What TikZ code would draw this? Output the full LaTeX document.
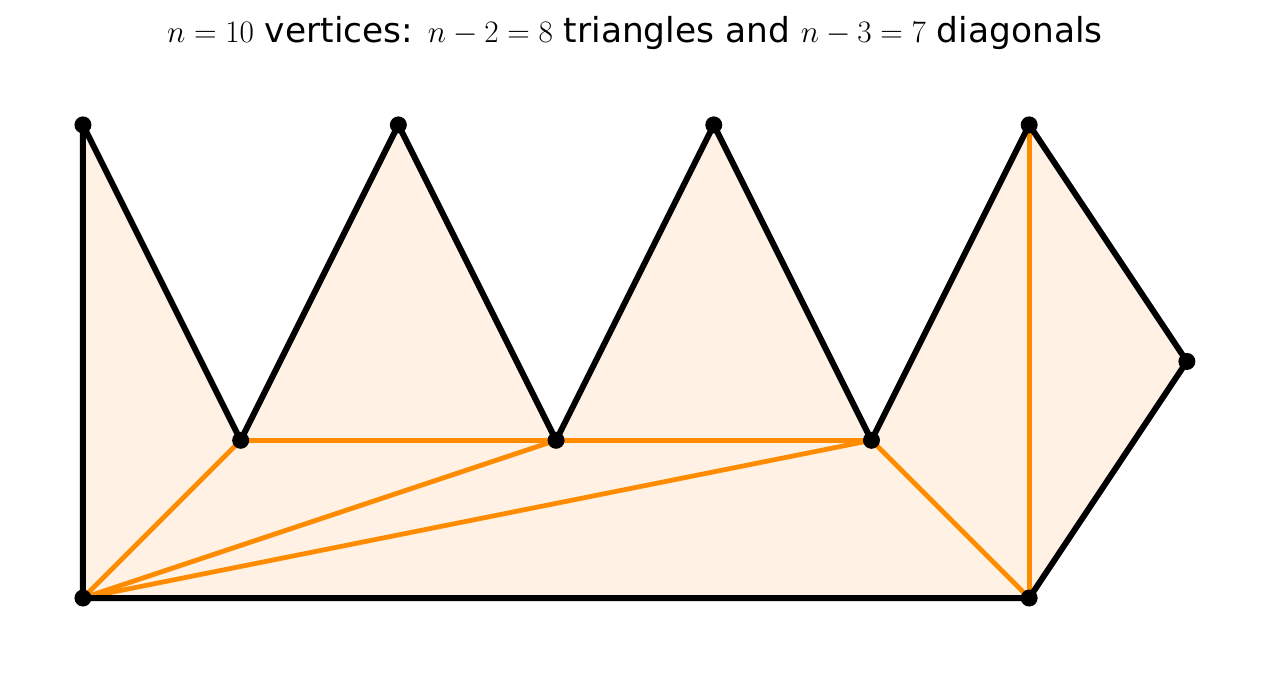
\documentclass[tikz,border=0pt]{standalone}
\usepackage{fontspec}
\setmainfont{DejaVu Sans}
\usetikzlibrary{positioning}

\definecolor{diagorange}{HTML}{FF8C00}
\definecolor{polyfill}{HTML}{FFF2E4}

\begin{document}
\begin{tikzpicture}[
    x=3.154cm, y=3.154cm,
    vertex/.style={circle,fill=black,inner sep=0pt,minimum size=0.34cm},
    edge/.style={black,line width=3.4pt,line join=round},
    diag/.style={diagorange,line width=2.7pt},
    title/.style={font=\fontsize{19}{23}\selectfont,scale=1.03,transform shape}
]
\useasboundingbox (-0.526,-0.526) rectangle (7.527,3.792);

% Vertices
\coordinate (a) at (0,0);
\coordinate (b) at (0,3);
\coordinate (c) at (1,1);
\coordinate (d) at (2,3);
\coordinate (e) at (3,1);
\coordinate (f) at (4,3);
\coordinate (g) at (5,1);
\coordinate (h) at (6,3);
\coordinate (i) at (7,1.5);
\coordinate (j) at (6,0);

% Polygon interior
\fill[polyfill] (a) -- (b) -- (c) -- (d) -- (e) -- (f) -- (g) -- (h) -- (i) -- (j) -- cycle;

% Diagonals
\draw[diag] (a) -- (c);
\draw[diag] (c) -- (e);
\draw[diag] (a) -- (e);
\draw[diag] (e) -- (g);
\draw[diag] (a) -- (g);
\draw[diag] (g) -- (j);
\draw[diag] (h) -- (j);

% Boundary
\draw[edge] (a) -- (b) -- (c) -- (d) -- (e) -- (f) -- (g) -- (h) -- (i) -- (j) -- cycle;

% Dots
\foreach \v in {a,b,c,d,e,f,g,h,i,j}
    \node[vertex] (\v dot) at (\v) {};

% Title
\node[title] (caption) at (3.5,3.583) {$n=10$ vertices: $n-2=8$ triangles and $n-3=7$ diagonals};

\end{tikzpicture}
\end{document}
